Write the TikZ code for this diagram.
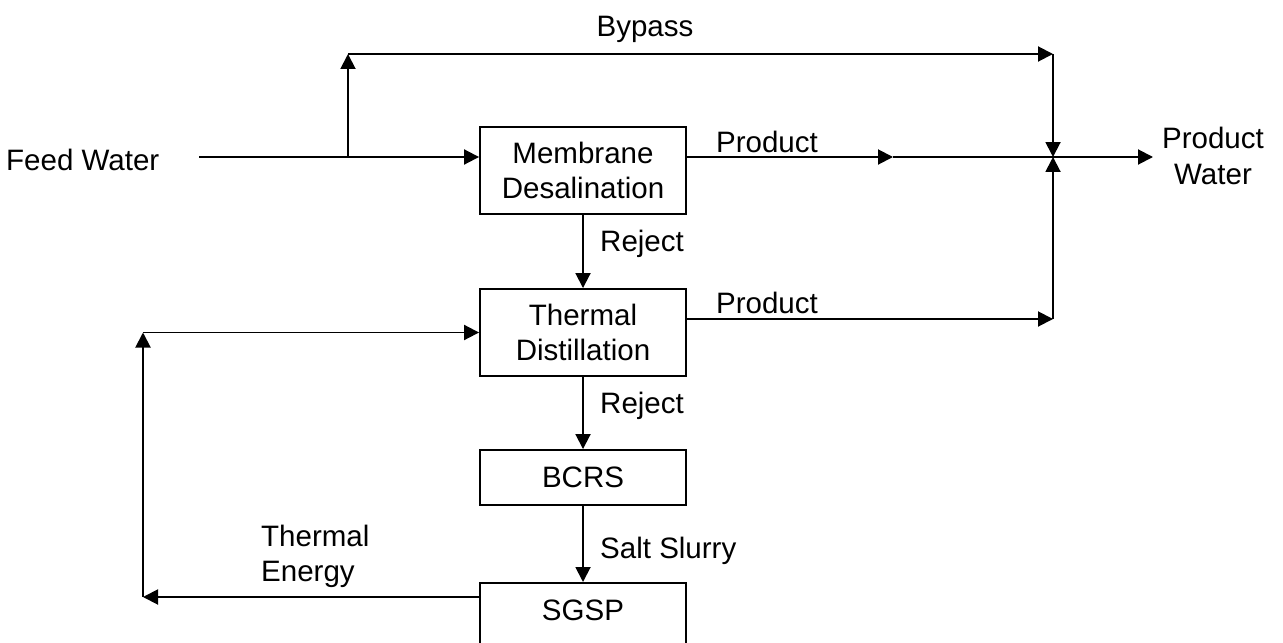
\documentclass[tikz,border=0pt]{standalone}
\usepackage{fontspec}
\setmainfont{Liberation Sans}
\usetikzlibrary{arrows.meta,positioning}

\tikzset{
  box/.style={draw,line width=1.1pt,minimum width=4.12cm,align=center},
  line/.style={line width=1.1pt},
  flow/.style={line width=1.1pt,-{Triangle[length=0.3cm,width=0.3cm]}}
}

\begin{document}
\begin{tikzpicture}[x=0.02cm,y=-0.02cm,font=\fontsize{16.8}{20}\selectfont]

\useasboundingbox (0,0) rectangle (1283,642);
\clip (0,0) rectangle (1283,642);

% process boxes
\node [box,minimum height=1.74cm] (mem) at (583,170.5) {Membrane\\Desalination};
\node [box,minimum height=1.74cm] (thd) at (583,332.5) {Thermal\\Distillation};
\node [box,minimum height=1.1cm] (bcrs) at (583,477.5) {BCRS};
\node [box,anchor=north,text height=0.4cm,text depth=0.6cm,inner ysep=0.36cm] (sgsp) at (583,582) {SGSP};

% labels
\node [anchor=base west] (feed) at (0,170) {Feed Water};
\node [anchor=base] (byp) at (645,37) {Bypass};
\node [anchor=base] (prod1) at (767,152) {Product};
\node [anchor=base] (prod2) at (767,313) {Product};
\node [align=center] (pw) at (1213,156) {Product\\Water};
\node [anchor=base west] (rej1) at (594,251) {Reject};
\node [anchor=base west] (rej2) at (594,413) {Reject};
\node [anchor=base west] (slurry) at (594,558) {Salt Slurry};
\node [anchor=west,align=left] (energy) at (255,556) {Thermal\\Energy};

% corner points
\coordinate (fin) at (199,157);
\coordinate (br) at (348,157);
\coordinate (bt) at (348,54);
\coordinate (bc) at (1053,54);
\coordinate (j) at (1053,157);
\coordinate (pm) at (893,157);
\coordinate (out) at (1153,157);
\coordinate (tp) at (1053,319);
\coordinate (rb) at (143,597);
\coordinate (rt) at (rb |- thd.west);

% feed and bypass
\draw [line] (fin) -- (br);
\draw [flow] (br) -- (mem.west |- br);
\draw [flow] (br) -- (bt);
\draw [flow] (bt) -- (bc);
\draw [flow] (bc) -- (j);

% product water
\draw [flow] (mem.east |- pm) -- (pm);
\draw [line] (pm) -- (j);
\draw [flow] (j) -- (out);
\draw [flow] (thd.east |- tp) -- (tp);
\draw [flow] (tp) -- (j);

% reject stream
\draw [flow] (mem) -- (thd);
\draw [flow] (thd) -- (bcrs);
\draw [flow] (bcrs) -- (sgsp);

% thermal energy return
\draw [flow] (sgsp.west |- rb) -- (rb);
\draw [flow] (rb) -- (rt);
\draw [flow] (rt) -- (thd.west);

\end{tikzpicture}
\end{document}
